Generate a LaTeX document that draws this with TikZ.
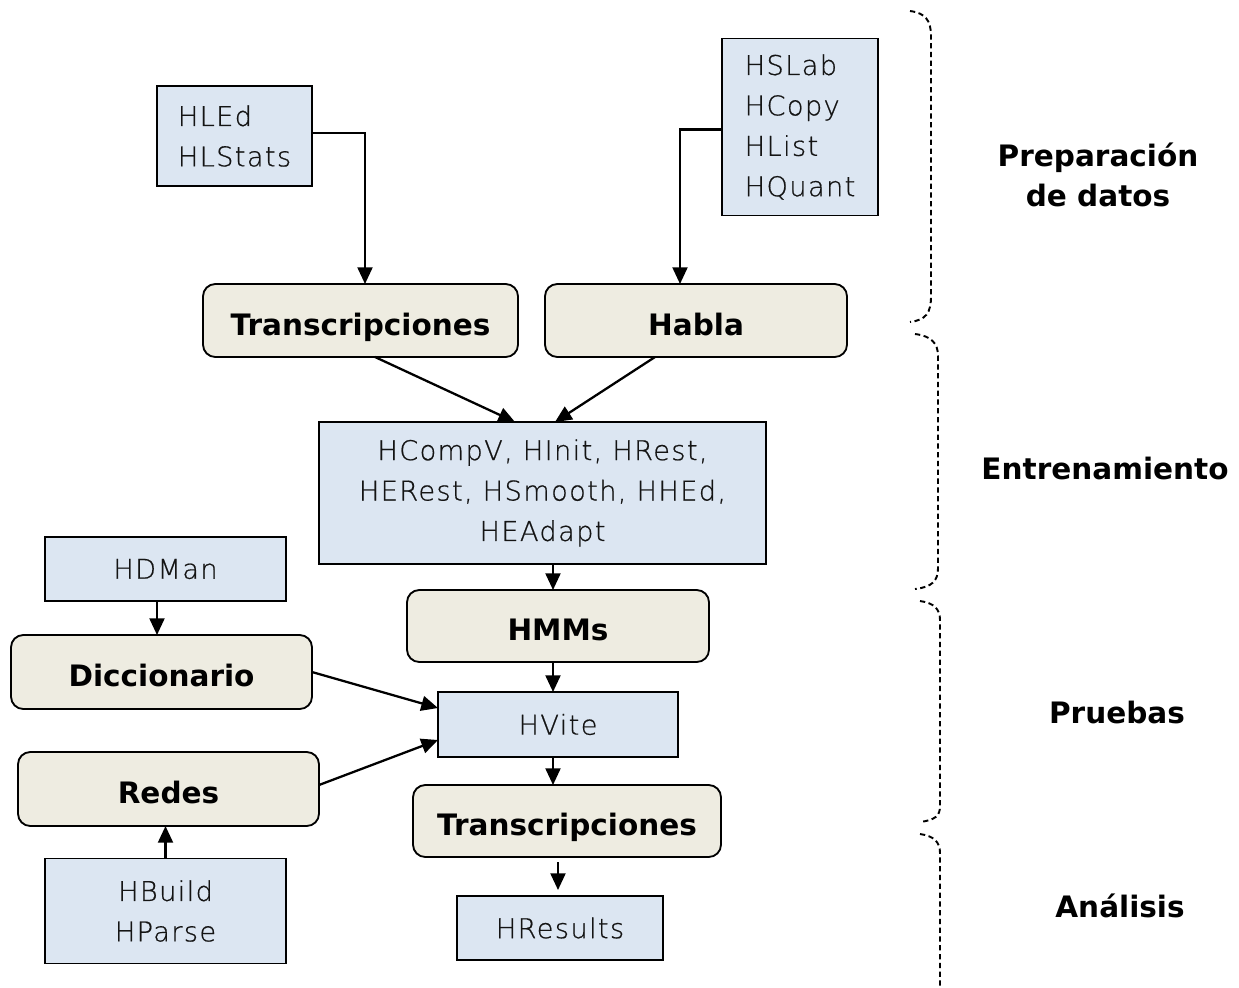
\documentclass[tikz,border=0pt]{standalone}
\usepackage{fontspec}
\setmainfont{DejaVu Sans}
\newfontfamily\toolfont[LetterSpace=5,FakeBold=0.6]{DejaVu Sans ExtraLight}
\usetikzlibrary{arrows.meta}
\definecolor{toolfill}{HTML}{DCE6F2}
\definecolor{datafill}{HTML}{EEECE1}
\definecolor{tooltext}{HTML}{141414}
\begin{document}
\begin{tikzpicture}[x=0.02cm,y=-0.02cm,
  sz/.style 2 args={minimum width=#1*0.02cm, minimum height=#2*0.02cm},
  toolbox/.style={draw, line width=1.05pt, fill=toolfill, inner sep=0pt, outer sep=0pt,
    font=\toolfont\fontsize{15.5}{23}\selectfont, text=tooltext, align=center},
  databox/.style={draw, line width=1.05pt, fill=datafill, rounded corners=7pt, inner sep=0pt,
    outer sep=0pt, text height=17pt, text depth=0pt,
    font=\bfseries\fontsize{16.8}{23}\selectfont},
  flow/.style={line width=1.3pt, -{Triangle[length=9.5pt,width=8.5pt]}},
  bracket/.style={line width=1.1pt, dash pattern=on 3pt off 2pt},
  phase/.style={font=\bfseries\fontsize{16.8}{23}\selectfont, align=center}]
\useasboundingbox (0,0) rectangle (1239,987);

% tool boxes and data boxes
\node[toolbox, sz={155}{100}, align=left] (hled) at (234.5,136) {HLEd\\HLStats};
\node[toolbox, sz={156}{177}, align=left] (hslab) at (800,127) {HSLab\\HCopy\\HList\\HQuant};
\node[databox, sz={315}{73}] (trans1) at (360.5,320.5) {Transcripciones};
\node[databox, sz={302}{73}] (habla) at (696,320.5) {Habla};
\node[toolbox, sz={447}{142}] (hcomp) at (542.5,493) {HCompV, HInit, HRest,\\HERest, HSmooth, HHEd,\\HEAdapt};
\node[toolbox, sz={241}{64}] (hdman) at (165.5,569) {HDMan};
\node[databox, sz={302}{72}] (hmms) at (558,626) {HMMs};
\node[databox, sz={301}{74}] (dicc) at (161.5,672) {Diccionario};
\node[toolbox, sz={240}{65}] (hvite) at (558,724.5) {HVite};
\node[databox, sz={301}{74}] (redes) at (168.5,789) {Redes};
\node[databox, sz={308}{72}] (trans2) at (567,821) {Transcripciones};
\node[toolbox, sz={241}{105}] (hbuild) at (165.5,911) {HBuild\\HParse};
\node[toolbox, sz={206}{64}] (hres) at (560,928) {HResults};

% connectors
\draw[flow] ([yshift=0.06cm]hled.east) -| ([xshift=0.09cm]trans1.north);
\draw[flow] ([yshift=-0.05cm]hslab.west) -| ([xshift=-0.32cm]habla.north);
\draw[flow] ([xshift=0.29cm]trans1.south) -- ([xshift=-0.55cm]hcomp.north);
\draw[flow] ([xshift=-0.82cm]habla.south) -- ([xshift=0.25cm]hcomp.north);
\draw[flow] ([xshift=0.21cm]hcomp.south) -- ([xshift=0.21cm]hcomp.south |- hmms.north);
\draw[flow] ([xshift=-0.1cm]hmms.south) -- ([xshift=-0.1cm]hmms.south |- hvite.north);
\draw[flow] ([xshift=-0.1cm]hvite.south) -- ([xshift=-0.1cm]hvite.south |- trans2.north);
\draw[flow, shorten <=0.1cm, shorten >=0.12cm] ([xshift=-0.04cm]hres.north |- trans2.south) -- ([xshift=-0.04cm]hres.north);
\draw[flow] ([xshift=-0.17cm]hdman.south) -- ([xshift=-0.17cm]hdman.south |- dicc.north);
\draw[flow] (dicc.east) -- ([yshift=0.33cm]hvite.west);
\draw[flow] ([yshift=0.08cm]redes.east) -- ([yshift=-0.31cm]hvite.west);
\draw[flow] (hbuild.north) -- (hbuild.north |- redes.south);

% phase brackets
\draw[bracket] (910,11) .. controls (925,13) and (931,20) .. (931,36) -- (931,296)
  .. controls (931,313) and (926,320) .. (910,322);
\draw[bracket] (915,334) .. controls (931,336) and (938,343) .. (938,356) -- (938,568)
  .. controls (938,581) and (932,587) .. (915,589);
\draw[bracket] (920,601) .. controls (934,603) and (940,609) .. (940,620) -- (940,806)
  .. controls (940,816) and (935,820) .. (920,822);
\draw[bracket] (920,834) .. controls (934,836) and (940,842) .. (940,853) -- (940,990);

% phase labels
\node[phase] (lprep) at (1098,175) {Preparación\\de datos};
\node[phase] (lent) at (1105,468) {Entrenamiento};
\node[phase] (lpru) at (1117,712) {Pruebas};
\node[phase] (lana) at (1120,906) {Análisis};
\end{tikzpicture}
\end{document}
